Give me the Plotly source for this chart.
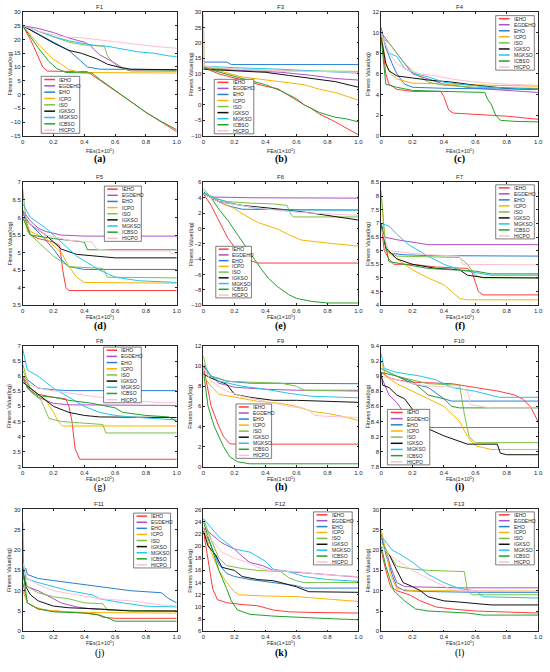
import plotly.graph_objects as go
from plotly.subplots import make_subplots

NAMES = ["IEHO", "EGDEHO", "EHO", "ICPO", "ISO", "IGKSO", "MGKSO", "ICBSO", "HICPO"]
COLORS = ["#ff3b3b", "#b04fc8", "#2a7fd4", "#f7b500", "#7cc242",
          "#111111", "#22c4ee", "#22a02c", "#ffbfd0"]
TITLES = ["F1", "F3", "F4", "F5", "F6", "F7", "F8", "F9", "F10", "F11", "F12", "F13"]
LETTERS = ["a", "b", "c", "d", "e", "f", "g", "h", "i", "j", "k", "l"]
# y range (min, max, step) per panel
YAX = [(-15, 30, 5), (-10, 30, 5), (0, 12, 2), (3.5, 7, 0.5), (-10, 6, 2), (4, 8.5, 0.5),
       (3, 7, 0.5), (0, 12, 2), (7.8, 9.4, 0.2), (0, 30, 5), (6, 26, 2), (0, 30, 5)]
XTICKS = [0, 0.2, 0.4, 0.6, 0.8, 1.0]
XTICKTEXT = ["0", "0.2", "0.4", "0.6", "0.8", "1.0"]

# convergence curves: name -> (FEs, fitness)
F1 = {
    "IEHO": ([0, 0.05, 0.09, 0.13, 0.16, 0.42, 0.5, 0.6, 0.7, 0.8, 0.9, 1.0],
             [25, 20, 15, 10, 8.5, 8.3, 5.2, 1.5, -2.5, -6.5, -10, -13.5]),
    "EGDEHO": ([0, 0.1, 0.2, 0.3, 0.4, 0.44, 0.46, 0.5, 0.6, 0.65, 0.7, 1.0],
               [25, 24, 22.5, 20.5, 19, 17.8, 16.5, 14.4, 11.4, 9.5, 8.6, 8.5]),
    "EHO": ([0, 0.1, 0.2, 0.3, 0.37, 0.42, 0.5, 1.0], [25, 22, 19, 16, 12.5, 10, 9.2, 9.0]),
    "ICPO": ([0, 0.05, 0.09, 0.15, 0.19, 0.25, 0.3, 0.38, 1.0],
             [25, 21.5, 19, 15.5, 13.2, 11, 9, 8, 7.8]),
    "ISO": ([0, 0.1, 0.2, 0.3, 0.4, 0.53, 0.55, 0.58, 0.62, 0.67, 1.0],
            [25, 23, 21, 19, 18, 17.5, 14, 12, 10, 9, 8.8]),
    "IGKSO": ([0, 0.1, 0.2, 0.3, 0.38, 0.48, 0.55, 0.62, 0.7, 1.0],
              [25, 21.8, 18.7, 16, 15, 13, 11, 10, 9.2, 9.0]),
    "MGKSO": ([0, 0.1, 0.2, 0.3, 0.45, 0.55, 0.65, 0.75, 0.85, 0.95, 1.0],
              [25, 23, 21, 19.5, 18, 17.5, 16.5, 15.5, 15, 14, 13.8]),
    "ICBSO": ([0, 0.05, 0.1, 0.17, 0.22, 0.28, 0.45, 0.5, 0.6, 0.7, 0.8, 0.9, 0.97, 1.0],
              [25, 21, 17, 12, 9.5, 8, 7.8, 5.5, 1.5, -2.5, -6.5, -9.8, -12, -12.8]),
    "HICPO": ([0, 0.1, 0.25, 0.4, 0.55, 0.7, 0.85, 1.0], [25, 23, 21, 20.5, 19.5, 18.5, 17.5, 16.8]),
}
F3 = {
    "IEHO": ([0, 0.05, 0.1, 0.25, 0.4, 0.48, 0.55, 0.65, 0.69, 0.75, 0.84, 1.0],
             [12, 11, 10, 8, 6, 5.2, 3, 0, -1, -3, -5.2, -9.7]),
    "EGDEHO": ([0, 0.1, 0.3, 0.5, 0.7, 0.85, 1.0], [12, 11.5, 11, 10.5, 9.5, 8.5, 8]),
    "EHO": ([0, 0.01, 0.15, 0.18, 1.0], [14, 13.8, 13.8, 13, 13]),
    "ICPO": ([0, 0.1, 0.25, 0.4, 0.55, 0.65, 0.75, 0.85, 1.0], [12, 11, 9, 8, 7, 6.5, 5, 4, 1.5]),
    "ISO": ([0, 0.005, 0.2, 0.5, 1.0], [29, 12, 11.5, 11, 10.8]),
    "IGKSO": ([0, 0.2, 0.4, 0.55, 0.7, 0.85, 1.0], [11.5, 11, 10.5, 9.5, 8.5, 7.5, 5.7]),
    "MGKSO": ([0, 0.2, 0.5, 0.7, 1.0], [12.5, 12, 11.5, 11, 10.2]),
    "ICBSO": ([0, 0.1, 0.25, 0.4, 0.5, 0.6, 0.65, 0.75, 0.85, 0.92, 1.0],
              [12, 10.5, 8.5, 6.5, 4.5, 2, 0, -2.5, -4, -4.5, -5.5]),
    "HICPO": ([0, 0.005, 0.2, 0.5, 1.0], [30, 12.5, 11.5, 11, 10.5]),
}
F4 = {
    "IEHO": ([0, 0.03, 0.05, 0.1, 0.2, 0.38, 0.4, 0.43, 0.46, 0.6, 0.8, 1.0],
             [10, 6, 5, 4.5, 4.3, 4.3, 3.8, 2.5, 2.2, 2.1, 1.9, 1.6]),
    "EGDEHO": ([0, 0.05, 0.1, 0.15, 0.17, 0.2, 0.3, 0.4, 0.6, 0.8, 1.0],
               [10, 9, 8, 7, 6.5, 6, 5.5, 5, 4.6, 4.4, 4.2]),
    "EHO": ([0, 0.03, 0.07, 0.1, 0.15, 0.2, 0.4, 1.0], [10.5, 8.5, 7, 6, 5, 4.7, 4.6, 4.5]),
    "ICPO": ([0, 0.03, 0.06, 0.1, 0.2, 0.4, 0.7, 1.0], [10, 7, 6, 5.5, 5.1, 5, 4.9, 4.8]),
    "ISO": ([0, 0.05, 0.1, 0.15, 0.22, 0.3, 0.4, 0.6, 1.0], [9.5, 9, 8, 7, 6, 5.2, 4.9, 4.7, 4.6]),
    "IGKSO": ([0, 0.03, 0.05, 0.1, 0.2, 0.3, 0.45, 0.6, 0.8, 1.0],
              [9.5, 7, 6.3, 5.8, 5.6, 5.4, 5.2, 4.9, 4.6, 4.5]),
    "MGKSO": ([0, 0.05, 0.1, 0.15, 0.22, 0.3, 0.4, 0.5, 0.7, 1.0],
              [10, 8, 7.7, 6.5, 6, 5.7, 5.2, 5, 4.7, 4.5]),
    "ICBSO": ([0, 0.03, 0.1, 0.2, 0.4, 0.66, 0.68, 0.7, 0.73, 0.76, 0.85, 1.0],
              [9.5, 5, 4.7, 4.4, 4.3, 4.2, 3.5, 3.1, 2, 1.5, 1.4, 1.35]),
    "HICPO": ([0, 0.05, 0.1, 0.15, 0.25, 0.35, 0.45, 0.6, 0.8, 1.0],
              [10, 8, 7, 6.5, 6, 5.8, 5.5, 5.2, 5, 4.9]),
}
F5 = {
    "IEHO": ([0, 0.05, 0.1, 0.2, 0.24, 0.26, 0.28, 0.3, 1.0], [6.2, 5.5, 5.4, 5.3, 5.2, 4.5, 4.0, 3.92, 3.92]),
    "EGDEHO": ([0, 0.05, 0.1, 0.15, 0.25, 0.4, 1.0], [6.2, 5.9, 5.7, 5.6, 5.5, 5.47, 5.47]),
    "EHO": ([0, 0.05, 0.12, 0.2, 0.25, 0.3, 0.4, 1.0], [6.1, 5.8, 5.5, 5.1, 4.8, 4.6, 4.52, 4.52]),
    "ICPO": ([0, 0.05, 0.15, 0.25, 0.3, 0.35, 0.4, 1.0], [6, 5.6, 5.4, 5.0, 4.6, 4.3, 4.15, 4.13]),
    "ISO": ([0, 0.03, 0.1, 0.2, 0.3, 0.52, 0.55, 1.0], [6.8, 5.6, 5.3, 4.9, 4.6, 4.55, 4.3, 4.28]),
    "IGKSO": ([0, 0.05, 0.15, 0.25, 0.35, 0.5, 0.6, 1.0], [6.0, 5.8, 5.5, 5.1, 4.95, 4.9, 4.85, 4.85]),
    "MGKSO": ([0, 0.05, 0.15, 0.25, 0.35, 0.5, 0.6, 0.75, 1.0], [6.4, 6.0, 5.7, 5.3, 4.9, 4.5, 4.3, 4.2, 4.15]),
    "ICBSO": ([0, 0.05, 0.2, 0.3, 0.4, 0.42, 1.0], [6.0, 5.5, 5.4, 5.35, 5.3, 5.08, 5.08]),
    "HICPO": ([0, 0.05, 0.15, 0.3, 0.45, 0.48, 0.6, 0.95, 0.96, 1.0],
              [6.0, 5.8, 5.5, 5.35, 5.3, 5.1, 5.05, 5.05, 4.97, 4.97]),
}
F6 = {
    "IEHO": ([0, 0.05, 0.09, 0.156, 0.22, 0.29, 0.35, 1.0], [4.5, 3, 1.4, -1.2, -3, -4.1, -4.5, -4.5]),
    "EGDEHO": ([0, 0.05, 0.3, 1.0], [4.5, 4.1, 4.0, 3.95]),
    "EHO": ([0, 0.05, 0.15, 0.25, 1.0], [4.8, 4, 3, 2.5, 2.4]),
    "ICPO": ([0, 0.1, 0.2, 0.26, 0.35, 0.48, 0.55, 0.63, 0.8, 1.0],
             [4.6, 3.5, 2.6, 1.8, 0.8, -0.1, -0.8, -1.5, -1.9, -2.3]),
    "ISO": ([0, 0.05, 0.15, 0.3, 0.45, 0.54, 0.56, 0.58, 1.0], [5.2, 4, 3.5, 3.3, 3.2, 3.0, 2, 1.5, 1.5]),
    "IGKSO": ([0, 0.1, 0.25, 0.5, 0.7, 0.85, 1.0], [4.5, 3.5, 3, 2.5, 2, 1.5, 1.1]),
    "MGKSO": ([0, 0.1, 0.2, 0.35, 0.5, 1.0], [4.6, 3.8, 3.2, 2.6, 2.4, 2.4]),
    "ICBSO": ([0, 0.05, 0.1, 0.16, 0.22, 0.26, 0.3, 0.37, 0.42, 0.48, 0.55, 0.6, 0.7, 0.8, 1.0],
              [4.5, 4, 2.5, 1, -0.8, -2, -3.2, -5.2, -6.5, -7.6, -8.6, -9.1, -9.5, -9.7, -9.7]),
    "HICPO": ([0, 0.1, 0.3, 0.5, 0.7, 1.0], [4.5, 3.5, 2.8, 2.3, 2, 1.7]),
}
F7 = {
    "IEHO": ([0, 0.02, 0.05, 0.08, 0.2, 0.35, 0.55, 0.58, 0.62, 0.65, 1.0],
             [7.0, 6.0, 5.7, 5.5, 5.5, 5.4, 5.35, 5.2, 4.5, 4.38, 4.38]),
    "EGDEHO": ([0, 0.02, 0.1, 0.2, 0.3, 1.0], [6.8, 6.5, 6.4, 6.3, 6.22, 6.22]),
    "EHO": ([0, 0.03, 0.06, 0.15, 0.3, 1.0], [7, 6.1, 5.9, 5.85, 5.82, 5.8]),
    "ICPO": ([0, 0.03, 0.1, 0.2, 0.3, 0.4, 0.45, 0.5, 0.55, 1.0],
             [8.0, 6.0, 5.7, 5.3, 5.0, 4.75, 4.5, 4.25, 4.2, 4.2]),
    "ISO": ([0, 0.03, 0.1, 0.3, 0.5, 0.55, 0.6, 0.65, 1.0], [8.2, 6.0, 5.8, 5.78, 5.75, 5.5, 5.1, 5.0, 5.0]),
    "IGKSO": ([0, 0.03, 0.1, 0.2, 0.35, 0.5, 0.55, 0.65, 1.0], [7.0, 6.1, 5.7, 5.5, 5.35, 5.3, 5.1, 5.02, 5.0]),
    "MGKSO": ([0, 0.05, 0.1, 0.18, 0.3, 0.4, 0.5, 0.6, 0.7, 1.0],
              [7.0, 6.9, 6.6, 6.2, 5.8, 5.5, 5.3, 5.2, 5.1, 5.1]),
    "ICBSO": ([0, 0.05, 0.15, 0.3, 0.45, 0.6, 0.7, 1.0], [7.0, 5.6, 5.5, 5.35, 5.3, 5.25, 5.15, 5.15]),
    "HICPO": ([0, 0.05, 0.2, 0.3, 0.5, 0.52, 1.0], [6.8, 6.0, 5.9, 5.85, 5.8, 5.5, 5.48]),
}
F8 = {
    "IEHO": ([0, 0.05, 0.1, 0.2, 0.28, 0.3, 0.32, 0.34, 0.37, 1.0],
             [6, 5.6, 5.4, 5.3, 5.25, 5.0, 4.5, 3.6, 3.25, 3.25]),
    "EGDEHO": ([0, 0.05, 0.1, 0.2, 0.3, 1.0], [5.9, 5.5, 5.3, 5.1, 5.05, 5.03]),
    "EHO": ([0, 0.05, 0.1, 0.2, 0.3, 1.0], [6.0, 5.8, 5.6, 5.55, 5.52, 5.52]),
    "ICPO": ([0, 0.05, 0.15, 0.2, 0.23, 0.26, 1.0], [6.2, 5.6, 5.2, 4.8, 4.5, 4.35, 4.35]),
    "ISO": ([0, 0.05, 0.12, 0.17, 0.25, 0.4, 0.52, 0.54, 1.0], [6.4, 5.5, 5.2, 4.6, 4.5, 4.45, 4.4, 4.12, 4.12]),
    "IGKSO": ([0, 0.05, 0.12, 0.2, 0.3, 0.4, 0.5, 1.0], [5.8, 5.6, 5.3, 5.0, 4.8, 4.7, 4.65, 4.63]),
    "MGKSO": ([0, 0.03, 0.1, 0.2, 0.3, 0.4, 0.5, 0.6, 0.7, 0.85, 1.0],
              [6.9, 6.2, 6.0, 5.6, 5.3, 5.0, 4.8, 4.7, 4.65, 4.6, 4.55]),
    "ICBSO": ([0, 0.03, 0.1, 0.2, 0.3, 0.45, 0.6, 0.65, 0.8, 0.95, 1.0],
              [6.0, 5.6, 5.35, 5.3, 5.2, 5.1, 4.95, 4.8, 4.7, 4.65, 4.5]),
    "HICPO": ([0, 0.05, 0.15, 0.3, 0.5, 0.7, 0.9, 1.0], [6.0, 5.7, 5.55, 5.45, 5.3, 5.2, 5.12, 5.12]),
}
F9 = {
    "IEHO": ([0, 0.05, 0.1, 0.13, 0.17, 0.2, 1.0], [10, 6, 4, 3, 2.3, 2.25, 2.25]),
    "EGDEHO": ([0, 0.05, 0.1, 0.2, 0.4, 0.6, 1.0], [10, 9, 8.3, 7.9, 7.7, 7.6, 7.6]),
    "EHO": ([0, 0.05, 0.15, 0.3, 1.0], [10, 9, 8.5, 8.3, 8.25]),
    "ICPO": ([0, 0.05, 0.1, 0.2, 0.35, 0.5, 0.6, 0.7, 0.8, 0.9, 1.0],
             [9, 8, 7.2, 6.9, 6.5, 6.3, 6, 5.5, 5.3, 5.0, 4.6]),
    "ISO": ([0, 0.03, 0.1, 0.15, 0.3, 0.5, 0.6, 0.65, 1.0], [11, 9, 8.8, 8.5, 8.4, 8.3, 8.0, 7.6, 7.5]),
    "IGKSO": ([0, 0.05, 0.15, 0.2, 0.3, 0.45, 0.6, 0.85, 1.0], [9.2, 8.8, 8.2, 7.2, 6.9, 6.6, 6.6, 6.5, 6.4]),
    "MGKSO": ([0, 0.05, 0.1, 0.25, 0.4, 0.55, 0.7, 0.85, 1.0], [10.2, 9, 8.5, 8.0, 7.7, 7.3, 7.0, 6.9, 6.85]),
    "ICBSO": ([0, 0.03, 0.07, 0.1, 0.13, 0.17, 0.22, 0.3, 1.0], [9.5, 6, 4, 3, 2, 1, 0.5, 0.3, 0.3]),
    "HICPO": ([0, 0.05, 0.15, 0.25, 0.4, 0.55, 0.65, 0.68, 0.72, 0.8, 1.0],
              [9.8, 8.5, 7.5, 7.0, 6.5, 6.0, 5.8, 5.6, 5.1, 5.0, 4.9]),
}
F10 = {
    "IEHO": ([0, 0.05, 0.1, 0.2, 0.45, 0.6, 0.75, 0.85, 0.9, 0.95, 1.0],
             [9.05, 8.98, 8.95, 8.92, 8.9, 8.85, 8.8, 8.75, 8.7, 8.6, 8.4]),
    "EGDEHO": ([0, 0.02, 0.05, 0.1, 0.15, 0.2, 0.25, 0.3, 1.0],
               [9.0, 8.9, 8.75, 8.65, 8.5, 8.4, 8.33, 8.32, 8.32]),
    "EHO": ([0, 0.05, 0.1, 0.2, 0.3, 0.4, 0.45, 1.0], [9.1, 9.05, 9.0, 8.9, 8.85, 8.7, 8.67, 8.67]),
    "ICPO": ([0, 0.03, 0.1, 0.2, 0.3, 0.4, 0.5, 0.55, 0.6, 0.7, 1.0],
             [9.2, 9.0, 8.9, 8.8, 8.7, 8.6, 8.4, 8.2, 8.08, 8.03, 8.03]),
    "ISO": ([0, 0.1, 0.3, 0.5, 0.53, 0.56, 0.6, 1.0], [9.1, 9.0, 8.9, 8.88, 8.5, 8.2, 8.12, 8.12]),
    "IGKSO": ([0, 0.01, 0.05, 0.1, 0.15, 0.2, 0.26, 0.4, 0.55, 0.74, 0.76, 0.8, 1.0],
              [9.05, 8.88, 8.85, 8.75, 8.7, 8.56, 8.34, 8.21, 8.1, 8.1, 7.98, 7.96, 7.96]),
    "MGKSO": ([0, 0.02, 0.1, 0.25, 0.35, 0.45, 0.6, 0.75, 1.0],
              [9.3, 9.1, 9.05, 9.0, 8.95, 8.85, 8.8, 8.72, 8.72]),
    "ICBSO": ([0, 0.1, 0.2, 0.3, 0.4, 0.45, 0.5, 1.0], [9.05, 9.0, 8.93, 8.75, 8.7, 8.6, 8.58, 8.58]),
    "HICPO": ([0, 0.1, 0.2, 0.3, 0.5, 0.55, 0.57, 0.7, 1.0],
              [9.0, 8.95, 8.9, 8.87, 8.85, 8.8, 8.62, 8.58, 8.58]),
}
F11 = {
    "IEHO": ([0, 0.03, 0.1, 0.2, 0.4, 0.48, 0.52, 0.6, 1.0], [12, 7, 5.5, 5, 4.5, 4.2, 3.5, 3.2, 3.2]),
    "EGDEHO": ([0, 0.005, 0.03, 0.1, 0.15, 0.2, 0.25, 0.35, 0.45, 0.6, 1.0],
               [27, 13, 11, 10, 9, 8, 7, 6, 5.5, 5.2, 5.0]),
    "EHO": ([0, 0.02, 0.03, 0.1, 0.2, 0.4, 0.5, 0.7, 0.9, 0.95, 1.0],
            [15, 15.5, 14, 13, 12.5, 11.5, 11, 10, 9.5, 8, 7]),
    "ICPO": ([0, 0.03, 0.08, 0.15, 0.3, 0.5, 1.0], [10, 7, 6, 5.2, 4.8, 4.6, 4.5]),
    "ISO": ([0, 0.03, 0.1, 0.2, 0.3, 0.4, 0.52, 0.55, 1.0], [15, 11, 9.5, 8.5, 8, 7, 6.8, 5.2, 5.0]),
    "IGKSO": ([0, 0.02, 0.05, 0.1, 0.2, 0.3, 0.5, 0.7, 1.0], [15, 11, 9, 7.5, 6.2, 5.8, 5.5, 5.0, 5.0]),
    "MGKSO": ([0, 0.02, 0.1, 0.2, 0.3, 0.45, 0.5, 0.65, 0.8, 1.0], [18, 13, 12, 11, 10, 9, 8, 7, 6.2, 6.0]),
    "ICBSO": ([0, 0.03, 0.1, 0.2, 0.4, 0.5, 0.55, 0.6, 1.0], [15, 7, 5.5, 4.8, 4.5, 4.0, 3.3, 2.5, 2.5]),
    "HICPO": ([0, 0.03, 0.1, 0.2, 0.35, 0.5, 0.7, 0.9, 1.0], [17, 13, 11.5, 10, 9, 8, 7.5, 6.5, 6.3]),
}
F12 = {
    "IEHO": ([0, 0.03, 0.06, 0.09, 0.15, 0.25, 0.35, 0.45, 0.55, 0.7, 1.0],
             [22.5, 18, 13, 11.2, 10.7, 10.4, 10.2, 9.5, 9.2, 9.1, 9.0]),
    "EGDEHO": ([0, 0.05, 0.12, 0.2, 0.25, 0.3, 0.38, 0.45, 0.55, 0.7, 0.85, 1.0],
               [23, 22, 20.5, 19.5, 18.3, 17.3, 16.8, 16.0, 15.8, 15.5, 15.2, 14.9]),
    "EHO": ([0, 0.05, 0.1, 0.15, 0.2, 0.3, 0.4, 0.5, 0.6, 0.65, 1.0],
            [23, 20, 17, 15.5, 15, 14.5, 14.2, 13.8, 13.5, 13.1, 13.1]),
    "ICPO": ([0, 0.05, 0.1, 0.15, 0.2, 0.23, 0.4, 0.6, 0.8, 1.0],
             [23, 19, 16, 14, 12.5, 12, 11.8, 11.7, 11.3, 10.9]),
    "ISO": ([0, 0.05, 0.1, 0.15, 0.25, 0.35, 0.5, 0.55, 0.6, 0.65, 1.0],
            [24.5, 21, 18, 16.8, 16.3, 16.0, 15.8, 14.8, 14.3, 14, 14.0]),
    "IGKSO": ([0, 0.03, 0.08, 0.12, 0.2, 0.25, 0.35, 0.45, 0.5, 0.6, 0.68, 1.0],
              [22.5, 20, 18.5, 16.5, 16, 15, 14.5, 14.3, 14.0, 13.3, 12.5, 12.4]),
    "MGKSO": ([0, 0.05, 0.1, 0.15, 0.2, 0.3, 0.4, 0.45, 0.55, 0.65, 0.8, 1.0],
              [24.5, 23, 21.5, 20.5, 19.5, 19, 17.5, 16.2, 15.8, 15, 14.5, 14.2]),
    "ICBSO": ([0, 0.05, 0.1, 0.15, 0.18, 0.22, 0.3, 0.45, 0.6, 0.8, 1.0],
              [24, 20, 16, 13, 11, 9.5, 8.8, 8.5, 8.3, 8.1, 7.9]),
    "HICPO": ([0, 0.05, 0.12, 0.2, 0.3, 0.35, 0.42, 0.6, 0.7, 0.85, 1.0],
              [22.5, 21, 19, 18, 17.2, 16.5, 16.0, 15.8, 15.5, 15.2, 15.0]),
}
F13 = {
    "IEHO": ([0, 0.03, 0.06, 0.1, 0.18, 0.25, 0.35, 0.45, 0.6, 0.8, 1.0],
             [20, 15, 11, 10, 9, 7.5, 6, 5.5, 5, 4.8, 4.5]),
    "EGDEHO": ([0, 0.03, 0.06, 0.1, 0.15, 0.3, 0.5, 1.0], [23, 20, 16, 12, 11, 10.8, 10.7, 10.7]),
    "EHO": ([0, 0.03, 0.07, 0.1, 0.15, 0.3, 0.6, 1.0], [24, 19, 14, 11, 10, 9.8, 9.6, 9.6]),
    "ICPO": ([0, 0.03, 0.06, 0.1, 0.2, 0.5, 1.0], [25, 20, 14, 10.5, 10.0, 9.9, 9.9]),
    "ISO": ([0, 0.05, 0.1, 0.2, 0.3, 0.45, 0.53, 0.55, 0.58, 1.0],
            [22, 19, 16, 15.3, 15.0, 14.8, 14.7, 10, 9.0, 9.0]),
    "IGKSO": ([0, 0.05, 0.1, 0.14, 0.2, 0.25, 0.3, 0.4, 0.5, 0.6, 0.7, 1.0],
              [21, 19, 15, 12, 11, 10, 8.5, 7.5, 7.2, 6.8, 6.5, 6.5]),
    "MGKSO": ([0, 0.03, 0.07, 0.12, 0.2, 0.3, 0.4, 0.5, 0.6, 0.65, 1.0],
              [23.5, 22, 20, 19, 17, 14, 12, 10.5, 10, 8.5, 8.2]),
    "ICBSO": ([0, 0.03, 0.08, 0.15, 0.22, 0.3, 0.4, 0.55, 0.65, 1.0],
              [21, 16, 10, 7.5, 5.5, 5, 4.8, 4.5, 4.0, 4.0]),
    "HICPO": ([0, 0.05, 0.1, 0.2, 0.3, 0.4, 0.45, 0.6, 1.0], [21, 19, 17.5, 15, 13, 11, 10.2, 10, 9.8]),
}
PANELS = [F1, F3, F4, F5, F6, F7, F8, F9, F10, F11, F12, F13]

# legend box in axis-domain coords (x0, x1, y0, y1)
LEG = [(0.12, 0.37, 0.02, 0.48), (0.07, 0.325, 0.016, 0.456), (0.73, 0.976, 0.53, 0.97),
       (0.53, 0.77, 0.52, 0.97), (0.08, 0.31, 0.06, 0.48), (0.73, 0.976, 0.54, 0.98),
       (0.525, 0.77, 0.53, 0.99), (0.21, 0.44, 0.07, 0.52), (0.04, 0.31, 0.016, 0.475),
       (0.72, 0.96, 0.52, 0.97), (0.71, 0.96, 0.545, 0.98), (0.73, 0.976, 0.545, 0.98)]

W, H = 550, 672
COLS_PX = [(21, 177), (204, 361), (384, 543)]
ROWS_PX = [(9, 134), (181, 305), (346, 468), (511, 634)]
XLAB_SHIFT = [-19, -16, -16, -16]
LETTER_SHIFT = [-30, -28, -27, -29]
BOLD = set("abcdefhik")

AX = "#262626"
FONT = "Liberation Sans"

fig = make_subplots(rows=4, cols=3)
shapes, annos = [], []

for i, data in enumerate(PANELS):
    r, c = divmod(i, 3)
    k = i + 1
    for name, color in zip(NAMES, COLORS):
        xs, ys = data[name]
        fig.add_trace(go.Scatter(x=xs, y=ys, mode="lines", name=name, showlegend=False,
                                 line=dict(color=color, width=1)), row=r + 1, col=c + 1)

    xd = (COLS_PX[c][0] / W, COLS_PX[c][1] / W)
    yd = (1 - ROWS_PX[r][1] / H, 1 - ROWS_PX[r][0] / H)
    lo, hi, step = YAX[i]
    axkw = dict(showline=True, mirror="ticks", linecolor=AX, linewidth=0.6, ticks="inside",
                ticklen=2, tickwidth=0.6, tickcolor=AX, showgrid=False, zeroline=False,
                tickfont=dict(family=FONT, size=6, color=AX))
    fig.update_xaxes(domain=xd, range=[0, 1], tickvals=XTICKS, ticktext=XTICKTEXT,
                     row=r + 1, col=c + 1, **axkw)
    fig.update_yaxes(domain=yd, range=[lo, hi], tick0=lo, dtick=step,
                     row=r + 1, col=c + 1, **axkw)

    xr = "x domain" if k == 1 else f"x{k} domain"
    yr = "y domain" if k == 1 else f"y{k} domain"
    annos.append(dict(text=TITLES[i], x=0.5, y=1, xref=xr, yref=yr, yshift=1, showarrow=False,
                      yanchor="bottom", borderpad=0, font=dict(family=FONT, size=6, color=AX)))
    annos.append(dict(text="Fitness Value(log)", x=0, y=0.5, xref=xr, yref=yr, xshift=-17,
                      textangle=-90, showarrow=False, borderpad=0,
                      font=dict(family=FONT, size=5.5, color=AX)))
    annos.append(dict(text="FEs(1×10<sup>5</sup>)", x=0.5, y=0, xref=xr, yref=yr,
                      yshift=XLAB_SHIFT[r], showarrow=False, borderpad=0,
                      font=dict(family=FONT, size=5.5, color=AX)))
    lt = f"({LETTERS[i]})"
    if LETTERS[i] in BOLD:
        lt = f"<b>{lt}</b>"
    annos.append(dict(text=lt, x=0.5, y=0, xref=xr, yref=yr, yshift=LETTER_SHIFT[r],
                      showarrow=False, borderpad=0,
                      font=dict(family="Liberation Serif", size=10, color="black")))

    # legend box
    x0, x1, y0, y1 = LEG[i]
    shapes.append(dict(type="rect", xref=xr, yref=yr, x0=x0, x1=x1, y0=y0, y1=y1,
                       line=dict(color=AX, width=0.6), fillcolor="white", layer="above"))
    w = x1 - x0
    dy = (y1 - y0) / len(NAMES)
    for j, (name, color) in enumerate(zip(NAMES, COLORS)):
        yy = y1 - (j + 0.5) * dy
        shapes.append(dict(type="line", xref=xr, yref=yr, x0=x0 + 0.08 * w, x1=x0 + 0.36 * w,
                           y0=yy, y1=yy, line=dict(color=color, width=1.5), layer="above"))
        annos.append(dict(text=name, x=x0 + 0.44 * w, y=yy, xref=xr, yref=yr, xanchor="left",
                          yanchor="middle", showarrow=False, borderpad=0,
                          font=dict(family=FONT, size=5, color=AX)))

fig.update_layout(width=W, height=H, margin=dict(l=0, r=0, t=0, b=0),
                  paper_bgcolor="white", plot_bgcolor="white", showlegend=False,
                  hovermode=False, shapes=shapes, annotations=annos)

fig.write_html("out.html", config={"displayModeBar": False},
               post_script="document.body.style.margin='0';")
